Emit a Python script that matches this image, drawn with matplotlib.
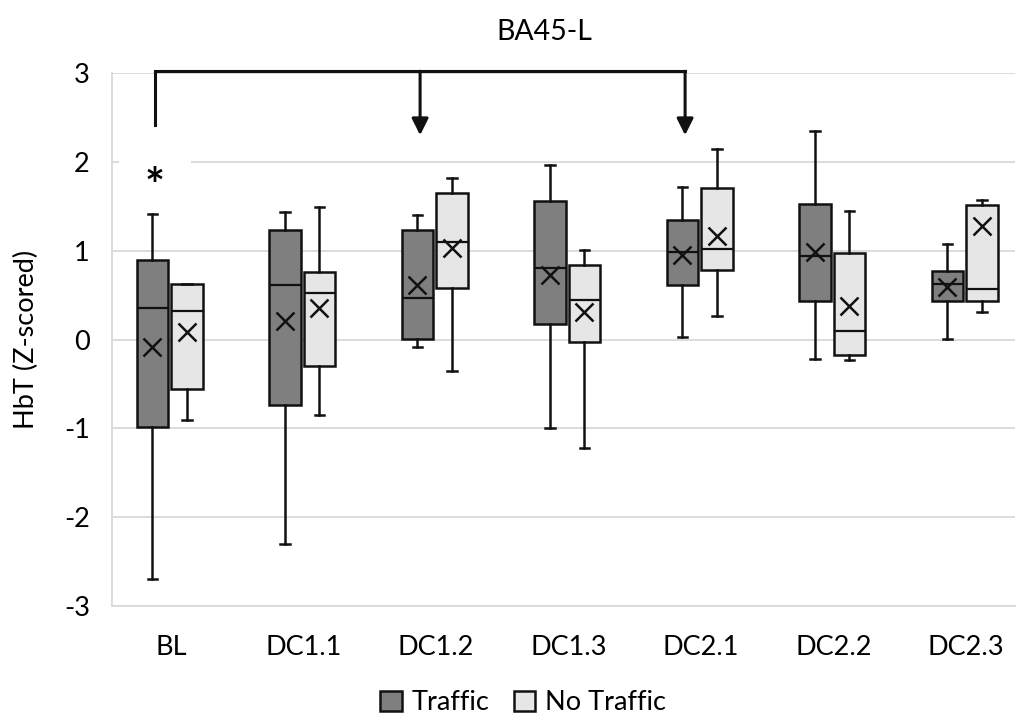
"""
BA45-L: HbT (Z-scored) box plots, Traffic vs No Traffic per driving condition.
Excel-style box & whisker look (mean shown as X).
"""
import matplotlib
matplotlib.use("Agg")
import matplotlib.pyplot as plt
from matplotlib.patches import Patch

plt.rcParams["font.family"] = ["Lato", "DejaVu Sans"]
plt.rcParams["axes.unicode_minus"] = False

CATEGORIES = ["BL", "DC1.1", "DC1.2", "DC1.3", "DC2.1", "DC2.2", "DC2.3"]

# Traffic: whisker low, Q1, median, Q3, whisker high, mean
T_LO   = [-2.70, -2.30, -0.09, -1.00, 0.03, -0.22, 0.01]
T_Q1   = [-0.98, -0.74, 0.01, 0.18, 0.61, 0.43, 0.43]
T_MED  = [0.35, 0.61, 0.47, 0.81, 0.98, 0.94, 0.63]
T_Q3   = [0.90, 1.23, 1.23, 1.56, 1.35, 1.52, 0.77]
T_HI   = [1.41, 1.43, 1.40, 1.96, 1.72, 2.35, 1.08]
T_MEAN = [-0.09, 0.21, 0.61, 0.73, 0.95, 0.99, 0.59]

# No Traffic
N_LO   = [-0.91, -0.85, -0.36, -1.22, 0.27, -0.23, 0.31]
N_Q1   = [-0.56, -0.30, 0.58, -0.03, 0.78, -0.17, 0.43]
N_MED  = [0.32, 0.52, 1.10, 0.45, 1.02, 0.10, 0.57]
N_Q3   = [0.62, 0.76, 1.65, 0.84, 1.71, 0.97, 1.51]
N_HI   = [0.63, 1.49, 1.82, 1.01, 2.15, 1.45, 1.57]
N_MEAN = [0.09, 0.35, 1.03, 0.31, 1.16, 0.38, 1.28]

# significance bracket: from BL down-arrows to DC1.2 and DC2.1
BRACKET_FROM = 0
BRACKET_TO   = [2, 4]
BRACKET_Y    = 3.02
BRACKET_LEFT_END = 2.41
ARROW_TIP    = 2.30
STAR_Y       = 1.70

C_TRAFFIC = "#7f7f7f"
C_NOTRAF  = "#e6e6e6"
C_EDGE    = "#111111"
OFF_T, OFF_N, WIDTH = -0.14, 0.12, 0.24


def stats(lo, q1, med, q3, hi, mean):
    return [dict(whislo=a, q1=b, med=c, q3=d, whishi=e, mean=f, fliers=[])
            for a, b, c, d, e, f in zip(lo, q1, med, q3, hi, mean)]


fig = plt.figure(figsize=(10.22, 7.24), dpi=100)
W, H = 1022, 724
ax = fig.add_axes([112 / W, 1 - 606 / H, (1015 - 112) / W, (606 - 73) / H])

x = list(range(len(CATEGORIES)))
common = dict(widths=WIDTH, showmeans=True, patch_artist=True,
              manage_ticks=False, zorder=3,
              medianprops=dict(color=C_EDGE, lw=1.6),
              whiskerprops=dict(color=C_EDGE, lw=1.8),
              capprops=dict(color=C_EDGE, lw=1.8),
              meanprops=dict(marker="x", markersize=13, markeredgewidth=1.8,
                             markeredgecolor=C_EDGE))

for vals, off, col in [((T_LO, T_Q1, T_MED, T_Q3, T_HI, T_MEAN), OFF_T, C_TRAFFIC),
                       ((N_LO, N_Q1, N_MED, N_Q3, N_HI, N_MEAN), OFF_N, C_NOTRAF)]:
    ax.bxp(stats(*vals), positions=[i + off for i in x],
           boxprops=dict(facecolor=col, edgecolor=C_EDGE, lw=1.8),
           capwidths=0.07, **common)

ax.set_xlim((112 - 171) / 132.5, (1015 - 171) / 132.5)
ax.set_ylim(-3, 3)
ax.set_yticks(range(-3, 4))
ax.set_xticks(x)
ax.set_xticklabels(CATEGORIES)
ax.tick_params(axis="both", length=0, labelsize=19.5, colors="#000000")
ax.tick_params(axis="x", pad=21)
ax.tick_params(axis="y", pad=16)
ax.grid(axis="y", color="#d9d9d9", lw=1.3)
ax.set_axisbelow(True)
for s in ["top", "right"]:
    ax.spines[s].set_visible(False)
ax.spines["left"].set_color("#d9d9d9")
ax.spines["bottom"].set_color("#d9d9d9")
ax.spines["left"].set_linewidth(1.3)
ax.spines["bottom"].set_linewidth(1.3)

ax.set_ylabel("HbT (Z-scored)", fontsize=19.5, labelpad=18)
fig.text(544 / W, 1 - 32 / H, "BA45-L", ha="center", va="center", fontsize=20.5)

# bracket with arrows
xa = BRACKET_FROM + OFF_T + 0.02
xb = [t + OFF_T + 0.02 for t in BRACKET_TO]
ax.plot([xa, xa, xb[-1]], [BRACKET_LEFT_END, BRACKET_Y, BRACKET_Y],
        color=C_EDGE, lw=2.2, clip_on=False, zorder=4, solid_joinstyle="miter")
for xt in xb:
    ax.annotate("", xy=(xt, ARROW_TIP), xytext=(xt, BRACKET_Y),
                arrowprops=dict(arrowstyle="-|>,head_length=1.0,head_width=0.5",
                                color=C_EDGE, lw=2.2, shrinkA=0, shrinkB=0),
                annotation_clip=False, zorder=4)

# asterisk in white text box (covers the gridline)
ax.text(xa, STAR_Y, "*", ha="center", va="center", fontsize=34, zorder=1,
        fontweight="bold",
        bbox=dict(boxstyle="square,pad=0.55", facecolor="white", edgecolor="none"))

handles = [Patch(facecolor=C_TRAFFIC, edgecolor=C_EDGE, lw=1.8, label="Traffic"),
           Patch(facecolor=C_NOTRAF, edgecolor=C_EDGE, lw=1.8, label="No Traffic")]
fig.legend(handles=handles, loc="center", bbox_to_anchor=(523 / W, 1 - 703 / H),
           ncol=2, frameon=False, fontsize=19.5, handlelength=0.8,
           handleheight=0.8, handletextpad=0.35, columnspacing=0.9)

fig.savefig("out.png", dpi=100)
